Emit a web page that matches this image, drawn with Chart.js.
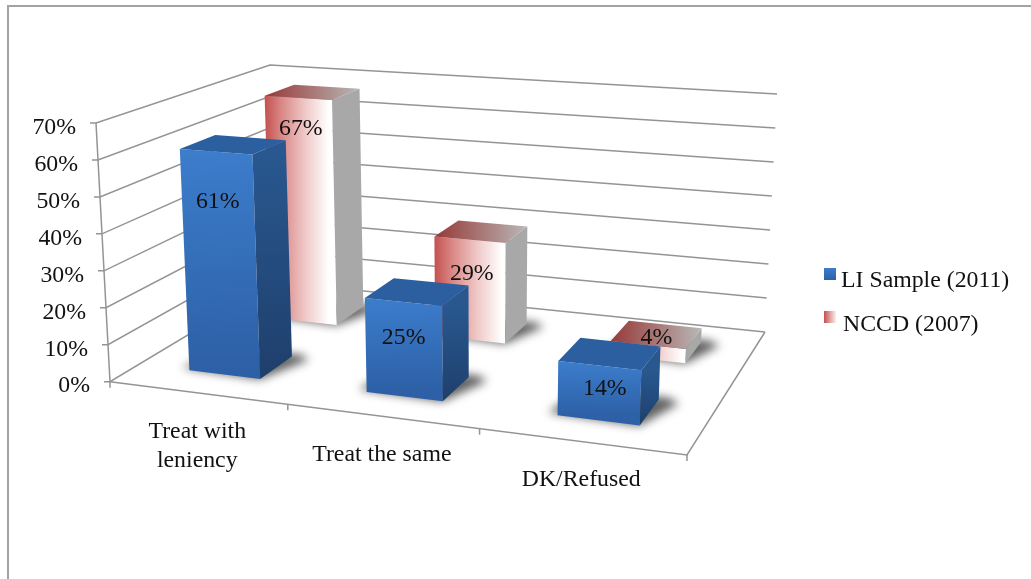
<!DOCTYPE html>
<html>
<head>
<meta charset="utf-8">
<title>Treatment survey</title>
<style>
  html, body { margin: 0; padding: 0; background: #fff; overflow: hidden; }
  #wrap { position: relative; width: 1031px; height: 579px; }
  #frame { position: absolute; left: 7px; top: 5px; right: 0; bottom: 0;
           border-left: 2px solid #a3a3a3; border-top: 2px solid #a3a3a3; }
  canvas { position: absolute; left: 0; top: 0; }
</style>
<script src="https://cdn.jsdelivr.net/npm/chart.js@4"></script>
</head>
<body>
<div id="wrap">
  <div id="frame"></div>
  <canvas id="myChart" width="1031" height="579"></canvas>
</div>
<script>
var categories = [["Treat with", "leniency"], ["Treat the same"], ["DK/Refused"]];
var liSample = [61, 25, 14];
var nccd = [67, 29, 4];
var seriesNames = ["LI Sample (2011)", "NCCD (2007)"];
var yTicks = [0, 10, 20, 30, 40, 50, 60, 70];

var FONT = '23.8px "Liberation Serif"';
var GRID = "#949494";

// corners of the box on screen, floor and ceiling: front-left, front-right, back-right, back-left
var floorQuad = [[110, 381.7], [687, 455], [765, 332], [276, 282]];
var roofQuad = [[96, 123], [698, 167], [777, 94], [270, 65]];

// where each value label sits: share of the bar height, and sideways shift, per series
var labelLift = [[0.78, 0.64, 0.62], [0.87, 0.68, 1.7]];
var labelShift = [[0, 0, 0.0095], [0.004, 0.004, 0.0145]];

// unit square to quad
function homography(q) {
  var x0 = q[0][0], y0 = q[0][1], x1 = q[1][0], y1 = q[1][1];
  var x2 = q[2][0], y2 = q[2][1], x3 = q[3][0], y3 = q[3][1];
  var dx1 = x1 - x2, dx2 = x3 - x2, sx = x0 - x1 + x2 - x3;
  var dy1 = y1 - y2, dy2 = y3 - y2, sy = y0 - y1 + y2 - y3;
  var det = dx1 * dy2 - dx2 * dy1;
  var g = (sx * dy2 - dx2 * sy) / det;
  var h = (dx1 * sy - sx * dy1) / det;
  return function (u, v) {
    var w = g * u + h * v + 1;
    return [
      ((x1 - x0 + g * x1) * u + (x3 - x0 + h * x3) * v + x0) / w,
      ((y1 - y0 + g * y1) * u + (y3 - y0 + h * y3) * v + y0) / w,
    ];
  };
}
var onFloor = homography(floorQuad);
var onRoof = homography(roofQuad);

// u along the categories, v into the depth, t up the value axis (all 0..1)
function project(u, v, t) {
  var a = onFloor(u, v), b = onRoof(u, v);
  return [a[0] + (b[0] - a[0]) * t, a[1] + (b[1] - a[1]) * t];
}

function poly(ctx, pts) {
  ctx.beginPath();
  ctx.moveTo(pts[0][0], pts[0][1]);
  for (var i = 1; i < pts.length; i++) ctx.lineTo(pts[i][0], pts[i][1]);
  ctx.closePath();
}

function line(ctx, pts) {
  ctx.beginPath();
  ctx.moveTo(pts[0][0], pts[0][1]);
  for (var i = 1; i < pts.length; i++) ctx.lineTo(pts[i][0], pts[i][1]);
  ctx.stroke();
}

function grad(ctx, a, b, stops) {
  var g = ctx.createLinearGradient(a[0], a[1], b[0], b[1]);
  stops.forEach(function (s) { g.addColorStop(s[0], s[1]); });
  return g;
}

function drawWalls(ctx, chart) {
  var y = chart.scales.y;
  var axisT = function (val) { return (y.bottom - y.getPixelForValue(val)) / y.height; };
  ctx.strokeStyle = GRID;
  ctx.lineWidth = 1.5;
  yTicks.forEach(function (val) {
    var t = axisT(val);
    var p = project(0, 0, t);
    line(ctx, [[p[0] - 6, p[1]], p, project(0, 1, t), project(1, 1, t)]);
  });
  line(ctx, [project(0, 0, 0), project(0, 0, 1)]);
  line(ctx, [project(0, 0, 0), project(1, 0, 0), project(1, 1, 0)]);

  // category ticks along the front edge
  categories.forEach(function (c, i) {
    var p = project((i + 1) / categories.length, 0, 0);
    line(ctx, [p, [p[0], p[1] + 6]]);
  });
  var o = project(0, 0, 0);
  line(ctx, [o, [o[0], o[1] + 6]]);

  ctx.fillStyle = "#111";
  ctx.font = FONT;
  ctx.textAlign = "right";
  ctx.textBaseline = "middle";
  yTicks.forEach(function (val) {
    var p = project(0, 0, axisT(val));
    ctx.fillText(val + "%", p[0] - 20, p[1] + 4.5);
  });

  ctx.textAlign = "center";
  categories.forEach(function (lines, i) {
    var p = project((i + 0.5) / categories.length, 0, 0);
    lines.forEach(function (txt, n) {
      ctx.fillText(txt, p[0], p[1] + 38.5 + n * 29);
    });
  });
}

function drawBar(ctx, chart, dsIndex, el, index) {
  var xs = chart.scales.x, ys = chart.scales.y;
  var u0 = (el.x - el.width / 2 - xs.left) / xs.width;
  var u1 = (el.x + el.width / 2 - xs.left) / xs.width;
  var t = (el.base - el.y) / ys.height;
  // two rows in depth, each bar 0.2 of the floor deep
  var vMid = dsIndex === 0 ? 0.25 : 0.75;
  var v0 = vMid - 0.098, v1 = vMid + 0.098;

  // soft shadow on the floor
  ctx.save();
  ctx.filter = "blur(5px)";
  ctx.fillStyle = "rgba(0,0,0,0.62)";
  poly(ctx, [project(u0 - 0.018, v0 + 0.012, 0), project(u1, v0 - 0.002, 0),
             project(u1 + 0.036, v1 - 0.012, 0), project(u1 + 0.012, v1 + 0.022, 0), project(u0, v1, 0)]);
  ctx.fill();
  ctx.restore();

  var fl0 = project(u0, v0, 0), fr0 = project(u1, v0, 0), br0 = project(u1, v1, 0);
  var fl1 = project(u0, v0, t), fr1 = project(u1, v0, t), br1 = project(u1, v1, t), bl1 = project(u0, v1, t);

  if (dsIndex === 0) {
    ctx.fillStyle = grad(ctx, fl1, fl0, [[0, "#3c7dcc"], [1, "#2d60a6"]]);
    poly(ctx, [fl0, fr0, fr1, fl1]);
    ctx.fill();
    ctx.fillStyle = grad(ctx, fr1, fr0, [[0, "#28588f"], [1, "#1f3f6c"]]);
    poly(ctx, [fr0, br0, br1, fr1]);
    ctx.fill();
    ctx.fillStyle = "#2c5f9f";
    poly(ctx, [fl1, fr1, br1, bl1]);
    ctx.fill();
  } else {
    ctx.fillStyle = grad(ctx, [fl1[0], 0], [fr1[0], 0], [[0, "#c4504e"], [0.25, "#d98886"], [0.6, "#efc8c7"], [0.95, "#ffffff"]]);
    poly(ctx, [fl0, fr0, fr1, fl1]);
    ctx.fill();
    ctx.fillStyle = "#a8a8a8";
    poly(ctx, [fr0, br0, br1, fr1]);
    ctx.fill();
    ctx.fillStyle = grad(ctx, [fl1[0], 0], [br1[0], 0], [[0, "#963a38"], [0.5, "#a87775"], [1, "#b8b8b8"]]);
    poly(ctx, [fl1, fr1, br1, bl1]);
    ctx.fill();
  }
}

function drawLegend(ctx) {
  ctx.font = FONT;
  ctx.textAlign = "left";
  ctx.textBaseline = "middle";
  ctx.fillStyle = grad(ctx, [0, 268], [0, 280], [[0, "#3c7dcc"], [1, "#2d60a6"]]);
  ctx.fillRect(824, 268, 12, 12);
  ctx.fillStyle = grad(ctx, [824, 0], [836, 0], [[0, "#c4504e"], [1, "#fdf0f0"]]);
  ctx.fillRect(824, 311, 12, 12);
  ctx.fillStyle = "#111";
  ctx.fillText(seriesNames[0], 841, 280.5);
  ctx.fillText(seriesNames[1], 843, 324.5);
}

var box3d = {
  id: "box3d",
  beforeDatasetsDraw: function (chart) {
    var ctx = chart.ctx;
    drawWalls(ctx, chart);

    // back row first so the front row covers it
    [1, 0].forEach(function (ds) {
      chart.getDatasetMeta(ds).data.forEach(function (el, i) {
        drawBar(ctx, chart, ds, el, i);
      });
    });

    ctx.fillStyle = "#111";
    ctx.font = FONT;
    ctx.textAlign = "center";
    ctx.textBaseline = "middle";
    [1, 0].forEach(function (ds) {
      var vals = chart.data.datasets[ds].data;
      var vFront = (ds === 0 ? 0.25 : 0.75) - 0.098;
      chart.getDatasetMeta(ds).data.forEach(function (el, i) {
        var u = (el.x - chart.scales.x.left) / chart.scales.x.width + labelShift[ds][i];
        var t = (el.base - el.y) / chart.scales.y.height * labelLift[ds][i];
        var p = project(u, vFront, t);
        ctx.fillText(vals[i] + "%", p[0], p[1] + 1.5);
      });
    });

    drawLegend(ctx);
    return false;
  },
};

var ctx = document.getElementById("myChart").getContext("2d");
var myChart = new Chart(ctx, {
  type: "bar",
  data: {
    labels: categories,
    datasets: [
      { label: seriesNames[0], data: liSample, backgroundColor: "#3c7dcc", grouped: false },
      { label: seriesNames[1], data: nccd, backgroundColor: "#c4504e", grouped: false },
    ],
  },
  options: {
    responsive: false,
    animation: false,
    layout: { padding: 0 },
    barPercentage: 0.408,
    categoryPercentage: 1,
    plugins: { legend: { display: false }, tooltip: { enabled: false } },
    scales: {
      x: { display: false },
      y: { display: false, min: 0, max: 70, ticks: { stepSize: 10 } },
    },
  },
  plugins: [box3d],
});
</script>
</body>
</html>
